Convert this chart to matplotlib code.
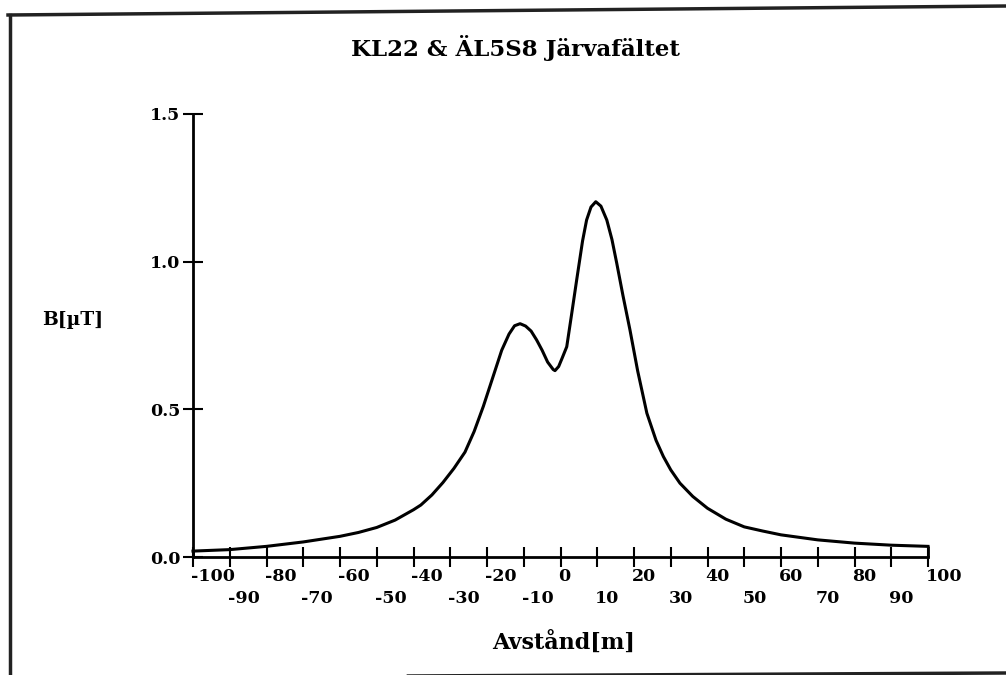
import matplotlib
matplotlib.use("Agg")
import matplotlib.pyplot as plt
from matplotlib.lines import Line2D
from matplotlib.transforms import ScaledTranslation

# values
avstand = [-100, -90, -80, -70, -60, -55, -50, -45, -40, -38, -35, -32, -29,
           -26, -23.5, -21, -18.5, -16, -14, -12.5, -11, -9.5, -8, -6.5, -5,
           -3.5, -2, -1.5, -0.5, 0.5, 1.7, 3, 4.4, 6, 7.1, 8.3, 9.6, 11, 12.6,
           14, 15.3, 17, 18.9, 21, 23.5, 26, 28, 30, 32.5, 36, 40, 45, 50, 55,
           60, 70, 80, 90, 100]
b_field = [0.020, 0.025, 0.036, 0.051, 0.070, 0.083, 0.100, 0.125, 0.160,
           0.176, 0.210, 0.252, 0.300, 0.355, 0.425, 0.510, 0.605, 0.700,
           0.755, 0.783, 0.790, 0.782, 0.765, 0.735, 0.700, 0.660, 0.635,
           0.631, 0.645, 0.675, 0.712, 0.820, 0.938, 1.070, 1.141, 1.185,
           1.203, 1.188, 1.141, 1.075, 0.995, 0.885, 0.769, 0.630, 0.487,
           0.395, 0.340, 0.295, 0.250, 0.205, 0.165, 0.128, 0.102, 0.088,
           0.075, 0.058, 0.047, 0.040, 0.036]

x_major = [-100, -80, -60, -40, -20, 0, 20, 40, 60, 80, 100]
x_minor = [-90, -70, -50, -30, -10, 10, 30, 50, 70, 90]
y_ticks = [0.0, 0.5, 1.0, 1.5]
y_labels = ["0.0", "0.5", "1.0", "1.5"]

title = "KL22 & ÄL5S8 Järvafältet"
xlabel = "Avstånd[m]"
ylabel = "B[µT]"

W, H = 1006, 675
font = {"family": "DejaVu Serif", "weight": "bold"}

fig = plt.figure(figsize=(W / 100, H / 100), dpi=100)
ax = fig.add_axes([193 / W, 1 - 557 / H, 735 / W, 443 / H])

ax.plot(avstand, b_field, color="black", lw=2.2, clip_on=False)
# the old plot closes the curve down to the axis at both ends
ax.vlines([avstand[0], avstand[-1]], 0, [b_field[0], b_field[-1]],
          color="black", lw=2.0, clip_on=False)

ax.set_xlim(-100, 100)
ax.set_ylim(0, 1.5)
for s in ["top", "right"]:
    ax.spines[s].set_visible(False)
for s in ["left", "bottom"]:
    ax.spines[s].set_linewidth(2.0)

ax.set_xticks(x_major)
ax.set_xticklabels([str(v) for v in x_major], fontdict=font, fontsize=12.5)
ax.set_xticks(x_minor, minor=True)
ax.set_xticklabels([str(v) for v in x_minor], minor=True, fontdict=font, fontsize=12.5)
ax.tick_params(axis="x", which="both", direction="inout", length=14, width=1.5)
ax.tick_params(axis="x", which="major", pad=1)
ax.tick_params(axis="x", which="minor", pad=17)
for lab in ax.get_xticklabels(which="both"):
    lab.set_horizontalalignment("left")
    lab.set_transform(lab.get_transform() + ScaledTranslation(-0.02, 0, fig.dpi_scale_trans))

ax.set_yticks(y_ticks)
ax.set_yticklabels(y_labels, fontdict=font, fontsize=12.5)
ax.tick_params(axis="y", direction="inout", length=14, width=1.5, pad=2)

fig.text(515 / W, 1 - 48 / H, title, ha="center", va="center", fontsize=16.5, **font)
fig.text(42 / W, 1 - 320 / H, ylabel, ha="left", va="center", fontsize=13.5, **font)
fig.text(564 / W, 1 - 642 / H, xlabel, ha="center", va="center", fontsize=16, **font)

# frame of the scanned page
def px_line(x0, y0, x1, y1, lw):
    fig.add_artist(Line2D([x0 / W, x1 / W], [1 - y0 / H, 1 - y1 / H],
                          transform=fig.transFigure, color="#222222", lw=lw))

px_line(8, 15, 1006, 6, 2.5)
px_line(10, 15, 10, 675, 2.5)
px_line(10, 678, 1006, 673, 2.5)

fig.savefig("out.png", dpi=100, facecolor="white")
